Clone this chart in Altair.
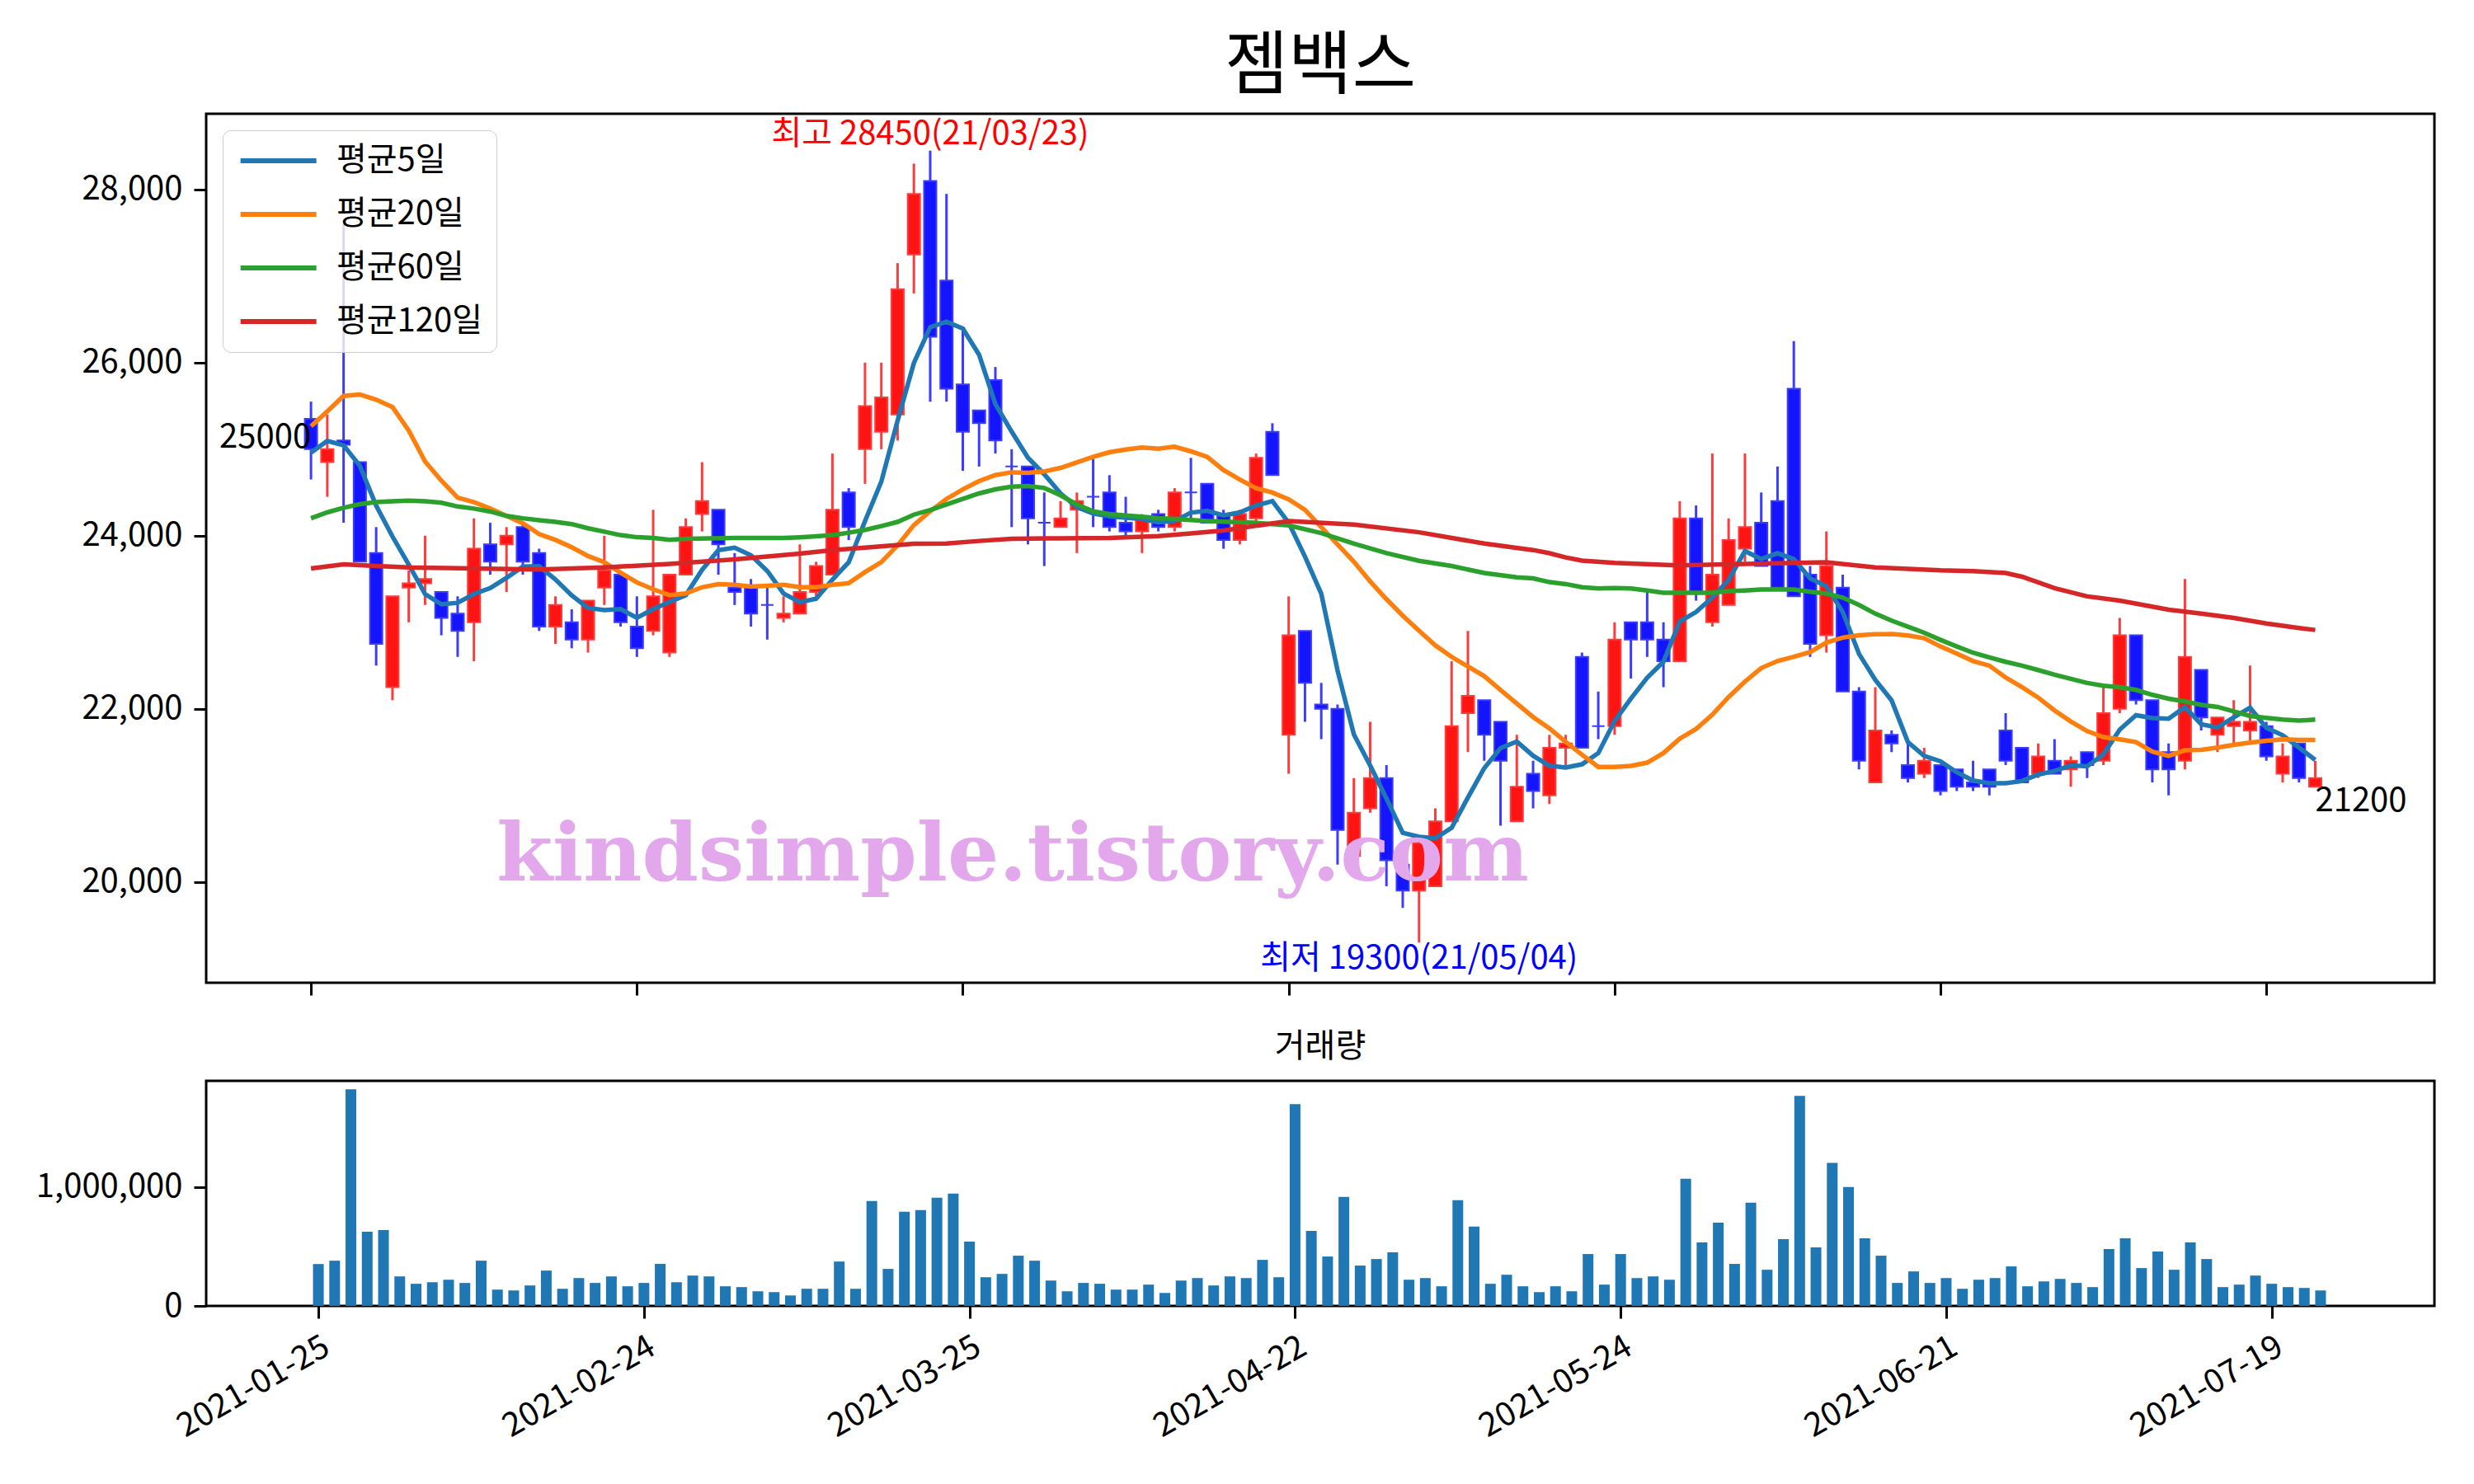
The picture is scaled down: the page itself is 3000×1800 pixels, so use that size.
import altair as alt
import pandas as pd

FONT = "Noto Sans CJK KR"

# ---------------- data ----------------
opens = [25350, 24850, 25100, 24850, 23800, 22250, 23400, 23450, 23350, 23100,
         23000, 23900, 23900, 24100, 23800, 22950, 23000, 22800, 23400, 23550,
         22950, 22900, 22650, 23550, 24250, 24300, 23400, 23400, 23200, 23050,
         23100, 23350, 23550, 24500, 25000, 25200, 25400, 27250, 28100, 26950,
         25750, 25450, 25800, 24800, 24800, 24150, 24100, 24300, 24450, 24500,
         24150, 24050, 24250, 24100, 24500, 24600, 24250, 23950, 24200, 25200,
         21700, 22900, 22050, 22000, 20300, 20850, 21200, 20200, 19900, 19950,
         20700, 21950, 22100, 21850, 20700, 21250, 21000, 21550, 22600, 21800,
         21800, 23000, 23000, 22800, 22550, 24200, 23000, 23200, 23850, 24150,
         24400, 25700, 23550, 22850, 23400, 22200, 21150, 21700, 21350, 21250,
         21350, 21300, 21150, 21300, 21750, 21550, 21250, 21400, 21300, 21500,
         21400, 22000, 22850, 22100, 21500, 21400, 22450, 21700, 21800, 21750,
         21800, 21250, 21600, 21100]
highs = [25550, 25400, 27600, 24850, 24100, 23300, 23600, 24000, 23350, 23300,
         24200, 24150, 24100, 24150, 23850, 23300, 23150, 23250, 24000, 23550,
         23300, 24300, 23550, 24200, 24850, 24300, 23800, 23500, 23400, 23300,
         23900, 23700, 24950, 24550, 26000, 26000, 27150, 28300, 28450, 27950,
         26400, 25450, 25950, 25000, 24800, 24500, 24400, 24500, 24900, 24700,
         24450, 24250, 24300, 24550, 24900, 24600, 24300, 24300, 24950, 25300,
         23300, 22900, 22300, 22050, 21200, 21850, 21350, 20250, 20500, 20850,
         22550, 22900, 22100, 21850, 21700, 21400, 21700, 21700, 22650, 22200,
         23000, 23000, 23350, 23000, 24400, 24350, 24950, 24200, 24950, 24500,
         24800, 26250, 23650, 24050, 23550, 22250, 22250, 21750, 21600, 21550,
         21350, 21300, 21400, 21300, 21950, 21550, 21600, 21650, 21450, 21500,
         22250, 23050, 22850, 22100, 21600, 23500, 22450, 21900, 22100, 22500,
         21850, 21600, 21600, 21400]
lows = [24650, 24450, 24150, 23700, 22500, 22100, 23000, 23200, 22850, 22600,
        22550, 23550, 23350, 23550, 22900, 22750, 22700, 22650, 23200, 22950,
        22600, 22850, 22600, 23550, 24050, 23550, 23200, 22950, 22800, 23000,
        23100, 23300, 23550, 23950, 24600, 25000, 25100, 26800, 25550, 25550,
        24750, 24800, 24950, 24100, 23900, 23650, 24100, 23800, 24100, 24050,
        24000, 23800, 24050, 24050, 24200, 24150, 23850, 23900, 24100, 24700,
        21250, 21850, 21650, 20200, 20300, 20800, 19950, 19700, 19300, 19950,
        20700, 21500, 21400, 20650, 20700, 20850, 20900, 21300, 21550, 21650,
        21700, 22350, 22600, 22250, 22550, 23250, 22950, 23200, 23700, 23650,
        23400, 23300, 22600, 22650, 22200, 21300, 21150, 21500, 21150, 21200,
        21000, 21050, 21050, 21000, 21350, 21150, 21200, 21250, 21100, 21200,
        21350, 21950, 22050, 21150, 21000, 21300, 21750, 21500, 21600, 21600,
        21400, 21150, 21150, 21100]
closes = [25000, 25000, 25050, 23700, 22750, 23300, 23450, 23500, 23050, 22900,
          23850, 23700, 24000, 23700, 22950, 23200, 22800, 23250, 23600, 23000,
          22700, 23300, 23550, 24100, 24400, 23900, 23350, 23100, 23200, 23100,
          23350, 23650, 24300, 24100, 25500, 25600, 26850, 27950, 26300, 25700,
          25200, 25300, 25100, 24800, 24200, 24150, 24200, 24400, 24450, 24100,
          24050, 24200, 24100, 24500, 24500, 24150, 23950, 24250, 24900, 24700,
          22850, 22300, 22000, 20600, 20800, 21200, 20250, 19900, 20450, 20700,
          21800, 22150, 21700, 21400, 21100, 21050, 21550, 21600, 21550, 21800,
          22800, 22800, 22800, 22550, 24200, 23350, 23550, 23950, 24100, 23650,
          23400, 23300, 22750, 23650, 22200, 21400, 21750, 21600, 21200, 21400,
          21050, 21100, 21100, 21100, 21400, 21150, 21450, 21250, 21400, 21350,
          21950, 22850, 22100, 21300, 21300, 22600, 21900, 21900, 21850, 21850,
          21450, 21450, 21200, 21200]
volumes = [352000, 380000, 1820000, 624000, 638000, 248000, 186000, 199000, 220000, 193000,
           380000, 137000, 130000, 172000, 297000, 144000, 234000, 193000, 248000, 165000,
           193000, 353000, 199000, 255000, 248000, 165000, 158000, 123000, 116000, 88000,
           144000, 144000, 373000, 144000, 881000, 311000, 791000, 805000, 909000, 944000,
           540000, 241000, 269000, 422000, 380000, 213000, 123000, 193000, 186000, 137000,
           137000, 179000, 109000, 213000, 234000, 172000, 248000, 234000, 387000, 241000,
           1696000, 631000, 415000, 916000, 339000, 394000, 450000, 220000, 234000, 165000,
           888000, 666000, 186000, 262000, 165000, 116000, 165000, 123000, 436000, 179000,
           436000, 234000, 248000, 220000, 1069000, 534000, 700000, 353000, 867000, 304000,
           561000, 1765000, 492000, 1202000, 1000000, 568000, 422000, 193000, 290000, 193000,
           234000, 144000, 220000, 234000, 332000, 165000, 206000, 227000, 193000, 158000,
           478000, 568000, 318000, 457000, 304000, 534000, 394000, 158000, 179000, 255000,
           186000, 158000, 151000, 130000]

ma5 = [24960, 25096, 25045, 24807, 24348, 23991, 23667, 23327, 23208, 23225,
       23327, 23395, 23514, 23644, 23648, 23495, 23311, 23165, 23141, 23153,
       23052, 23153, 23233, 23313, 23606, 23834, 23862, 23774, 23594, 23333,
       23233, 23273, 23493, 23694, 24170, 24625, 25330, 25997, 26410, 26473,
       26394, 26092, 25521, 25203, 24901, 24711, 24489, 24330, 24257, 24225,
       24209, 24193, 24155, 24171, 24267, 24289, 24235, 24270, 24350, 24400,
       24150, 23760, 23330, 22442, 21705, 21346, 20965, 20568, 20521, 20505,
       20625, 20975, 21314, 21546, 21622, 21458, 21343, 21322, 21359, 21489,
       21859, 22119, 22360, 22545, 23008, 23119, 23286, 23490, 23823, 23731,
       23798, 23731, 23508, 23416, 23120, 22635, 22335, 22098, 21616, 21457,
       21394, 21267, 21171, 21140, 21140, 21165, 21241, 21282, 21346, 21336,
       21473, 21759, 21927, 21894, 21886, 22020, 21822, 21785, 21902, 22013,
       21781, 21695, 21552, 21410]
ma20 = [25266, 25436, 25616, 25633, 25572, 25487, 25215, 24858, 24637, 24440,
        24389, 24314, 24229, 24144, 24020, 23952, 23867, 23766, 23694, 23574,
        23461, 23381, 23313, 23333, 23405, 23441, 23433, 23413, 23421, 23433,
        23405, 23405, 23433, 23453, 23580, 23695, 23890, 24124, 24282, 24425,
        24536, 24632, 24701, 24733, 24727, 24743, 24784, 24848, 24911, 24965,
        24997, 25019, 25006, 25029, 24975, 24911, 24759, 24650, 24550, 24500,
        24420, 24300, 24100, 23900, 23700, 23473, 23267, 23077, 22902, 22734,
        22600, 22489, 22378, 22219, 22060, 21905, 21775, 21618, 21470, 21329,
        21329, 21341, 21378, 21489, 21655, 21767, 21933, 22137, 22315, 22471,
        22552, 22601, 22656, 22767, 22823, 22850, 22862, 22864, 22848, 22816,
        22721, 22638, 22552, 22499, 22362, 22251, 22130, 21981, 21854, 21743,
        21673, 21648, 21616, 21505, 21457, 21521, 21527, 21552, 21584, 21609,
        21632, 21648, 21641, 21641]
ma60_idx = [0, 1, 2, 3, 4, 5, 6, 7, 8, 9, 10, 11, 12, 13, 14, 15, 16, 17, 18, 19,
            20, 21, 22, 23, 26, 29, 30, 31, 32, 33, 34, 35, 36, 37, 38, 39, 40, 41,
            42, 43, 44, 45, 46, 47, 48, 49, 50, 51, 52, 53, 54, 55, 56, 58, 60, 62,
            64, 66, 68, 70, 72, 74, 75, 76, 77, 78, 79, 80, 81, 82, 83, 86, 87, 88,
            89, 91, 92, 93, 94, 95, 96, 97, 98, 99, 100, 101, 102, 103, 104, 105,
            106, 107, 108, 109, 110, 111, 112, 113, 114, 115, 116, 117, 118, 119,
            120, 121, 122, 123]
ma60 = [24202, 24270, 24324, 24365, 24389, 24399, 24406, 24399, 24382, 24338,
        24314, 24280, 24229, 24202, 24180, 24160, 24135, 24087, 24047, 24007,
        23983, 23974, 23954, 23966, 23974, 23974, 23982, 23994, 24007, 24035,
        24068, 24112, 24160, 24244, 24298, 24362, 24425, 24489, 24536, 24568,
        24575, 24552, 24467, 24362, 24282, 24251, 24235, 24219, 24203, 24194,
        24181, 24171, 24162, 24150, 24120, 24030, 23910, 23800, 23710, 23650,
        23570, 23520, 23508, 23464, 23442, 23405, 23390, 23397, 23390, 23368,
        23342, 23342, 23360, 23368, 23379, 23379, 23353, 23331, 23286, 23200,
        23100, 23019, 22949, 22879, 22797, 22721, 22648, 22594, 22543, 22499,
        22448, 22394, 22346, 22299, 22267, 22251, 22219, 22162, 22117, 22086,
        22045, 22022, 21971, 21917, 21895, 21876, 21864, 21876]
ma120_idx = [0, 2, 4, 6, 10, 14, 18, 22, 26, 30, 32, 34, 37, 39, 41, 43, 46, 49,
             52, 54, 56, 60, 64, 68, 72, 75, 76, 77, 78, 80, 84, 88, 93, 96, 100,
             102, 104, 105, 107, 109, 111, 114, 116, 118, 120, 122, 123]
ma120 = [23623, 23670, 23650, 23633, 23623, 23610, 23634, 23674, 23726, 23794,
         23834, 23862, 23908, 23910, 23940, 23965, 23971, 23975, 23997, 24028,
         24060, 24170, 24130, 24040, 23910, 23835, 23798, 23750, 23712, 23686,
         23657, 23675, 23694, 23635, 23600, 23591, 23569, 23527, 23394, 23299,
         23251, 23146, 23100, 23051, 22987, 22934, 22911]

tick_idx = [0, 20, 40, 60, 80, 100, 120]
tick_labels = ["2021-01-25", "2021-02-24", "2021-03-25", "2021-04-22",
               "2021-05-24", "2021-06-21", "2021-07-19"]
price_ticks = [20000, 22000, 24000, 26000, 28000]
vol_ticks = [0, 1000000]
ma_names = ["평균5일", "평균20일", "평균60일", "평균120일"]
ma_colors = ["#1f77b4", "#ff7f0e", "#2ca02c", "#d62728"]
high_date = "21/03/23"
low_date = "21/05/04"
title_text = "젬백스"
vol_title = "거래량"
watermark = "kindsimple.tistory.com"

# ---------------- frames ----------------
n = len(closes)
idx = list(range(n))
df = pd.DataFrame({"i": idx, "open": opens, "high": highs, "low": lows,
                   "close": closes, "vol": volumes})
df["up"] = [c > o for o, c in zip(opens, closes)]

rows = []
for name, xs, ys in [(ma_names[0], idx, ma5), (ma_names[1], idx, ma20),
                     (ma_names[2], ma60_idx, ma60), (ma_names[3], ma120_idx, ma120)]:
    for xv, yv in zip(xs, ys):
        rows.append({"i": xv, "v": yv, "s": name})
ma_df = pd.DataFrame(rows)

hi = max(highs)
hi_i = highs.index(hi)
lo = min(lows)
lo_i = lows.index(lo)

W = 2702
H1 = 1054
H2 = 273

xs_p = alt.Scale(domain=[-6.18, 130.06], nice=False, zero=False)
ys_p = alt.Scale(domain=[18835, 28876], nice=False, zero=False)

x_p = alt.X("i:Q", scale=xs_p,
            axis=alt.Axis(values=tick_idx, labels=False, title=None, grid=False, domain=False))
y_low = alt.Y("low:Q", scale=ys_p,
              axis=alt.Axis(values=price_ticks, format=",d", title=None, grid=False, domain=False))

base = alt.Chart(df)
up = base.transform_filter("datum.up")
dn = base.transform_filter("!datum.up")

wick_up = up.mark_rule(strokeWidth=3, color="#ff3c3c").encode(x=x_p, y=y_low, y2="high:Q")
wick_dn = dn.mark_rule(strokeWidth=3, color="#3c3cff").encode(x=x_p, y=y_low, y2="high:Q")
body_up = up.mark_bar(size=15, fill="#ff1414", stroke="#ff3c3c", strokeWidth=2).encode(
    x="i:Q", y="open:Q", y2="close:Q")
body_dn = dn.mark_bar(size=15, fill="#1414ff", stroke="#3c3cff", strokeWidth=2).encode(
    x="i:Q", y="open:Q", y2="close:Q")

lines = alt.Chart(ma_df).mark_line(strokeWidth=5.5).encode(
    x="i:Q", y="v:Q", order="i:Q",
    color=alt.Color("s:N", scale=alt.Scale(domain=ma_names, range=ma_colors), sort=ma_names,
                    legend=alt.Legend(title=None, orient="top-left", symbolType="M-1,0H5",
                                      symbolSize=940, symbolStrokeWidth=6, labelFontSize=40,
                                      labelFont=FONT, labelOffset=81, rowPadding=25,
                                      padding=17, offset=20, strokeColor="#cccccc",
                                      fillColor="rgba(255,255,255,0.8)", cornerRadius=10,
                                      labelColor="black", labelLimit=500)))

def label(xv, yv, txt, color, align, baseline, dy=0):
    d = pd.DataFrame({"i": [xv], "p": [yv], "t": [txt]})
    return alt.Chart(d).mark_text(font=FONT, fontSize=40, color=color, align=align,
                                  baseline=baseline, dy=dy).encode(x="i:Q", y="p:Q", text="t:N")

ann_hi = label(hi_i, hi, f"최고 {hi}({high_date})", "red", "center", "bottom")
ann_lo = label(lo_i, lo, f"최저 {lo}({low_date})", "blue", "center", "top")
ann_first = label(0, closes[0], f"{closes[0]}", "black", "right", "middle", -14)
ann_last = label(n - 1, closes[-1], f"{closes[-1]}", "black", "left", "top", 8)

wm = alt.Chart(pd.DataFrame({"t": [watermark]})).mark_text(
    font="DejaVu Serif", fontWeight="bold", fontSize=98, color="#e3a8ec",
    align="center", baseline="middle").encode(x=alt.value(978), y=alt.value(901), text="t:N")

price = alt.layer(wick_up, wick_dn, body_up, body_dn, lines, ann_hi, ann_lo, ann_first,
                  ann_last, wm).properties(
    width=W, height=H1,
    title=alt.TitleParams(title_text, fontSize=84, font=FONT, fontWeight="normal",
                          anchor="middle", frame="group", baseline="alphabetic", offset=-53,
                          color="black"))

expr = "''"
for k, v in reversed(list(zip(tick_idx, tick_labels))):
    expr = f"datum.value == {k} ? '{v}' : ({expr})"

vol = alt.Chart(df).mark_bar(size=13, color="#1f77b4").encode(
    x=alt.X("i:Q", scale=alt.Scale(domain=[-6.64, 129.74], nice=False, zero=False),
            axis=alt.Axis(values=tick_idx, labelExpr=expr, labelAngle=-30, labelAlign="right",
                          labelBaseline="top", title=None, grid=False, domain=False)),
    y=alt.Y("vol:Q", scale=alt.Scale(domain=[0, 1891000], nice=False),
            axis=alt.Axis(values=vol_ticks, format=",d", title=None, grid=False, domain=False))
).properties(width=W, height=H2,
             title=alt.TitleParams(vol_title, fontSize=40, font=FONT, fontWeight="normal",
                                   anchor="middle", frame="group", baseline="alphabetic",
                                   offset=-11, color="black"))

chart = alt.vconcat(price, vol, spacing=38).properties(
    padding={"left": 33, "top": 30, "right": 20, "bottom": 10},
    background="white"
).configure_view(stroke="black", strokeWidth=3).configure_axis(
    labelFont=FONT, labelFontSize=40, labelColor="black", tickColor="black",
    tickWidth=3, tickSize=15, labelPadding=14, labelLimit=500
)

chart.save("out.html", embed_options={"renderer": "svg", "actions": False})
